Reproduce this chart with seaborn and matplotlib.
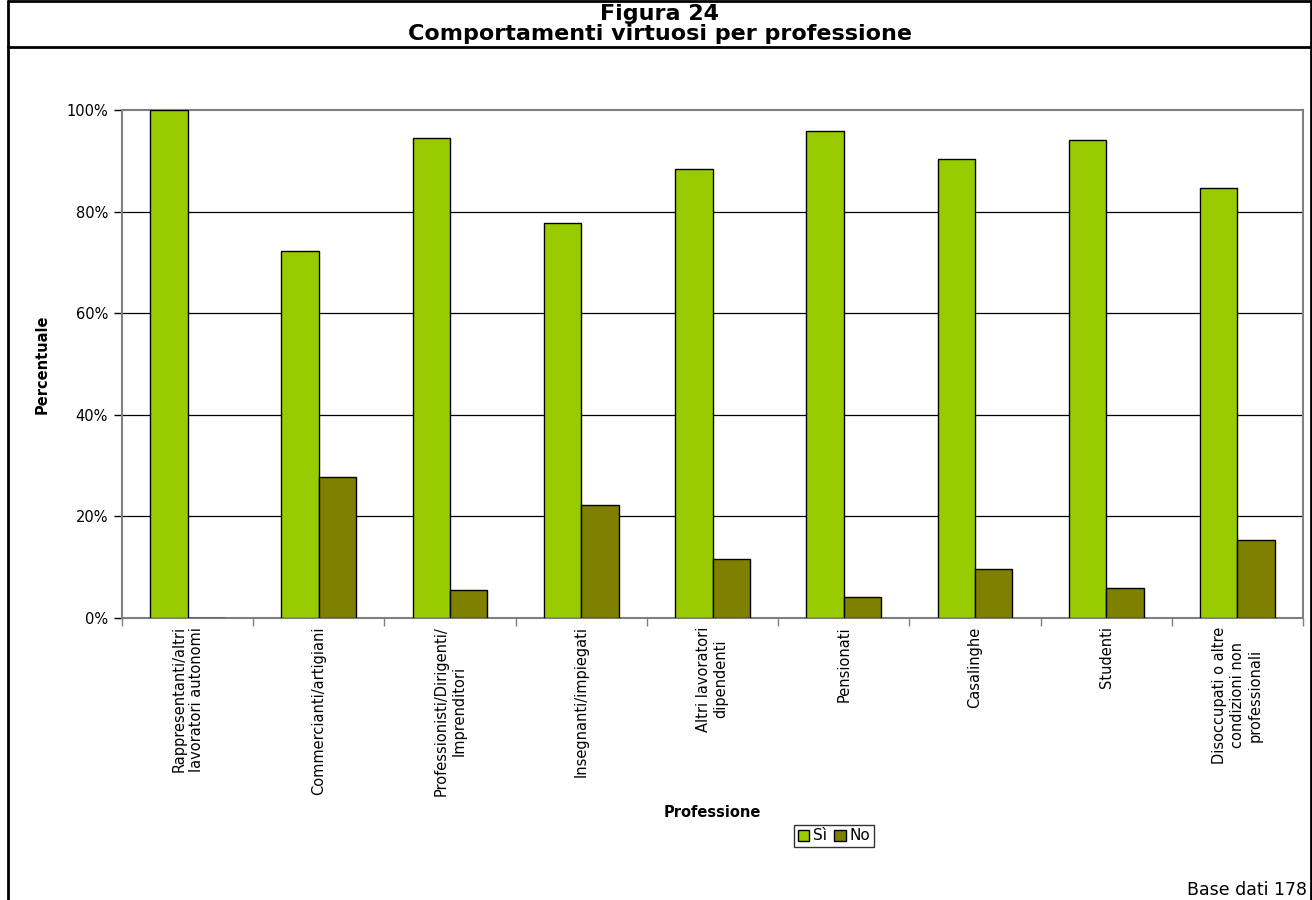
import matplotlib
matplotlib.use("Agg")
import matplotlib.pyplot as plt
import seaborn as sns
import pandas as pd
from matplotlib.lines import Line2D
from matplotlib.ticker import FixedLocator, FuncFormatter

categories = [
    "Rappresentanti/altri\nlavoratori autonomi",
    "Commercianti/artigiani",
    "Professionisti/Dirigenti/\nImprenditori",
    "Insegnanti/impiegati",
    "Altri lavoratori\ndipendenti",
    "Pensionati",
    "Casalinghe",
    "Studenti",
    "Disoccupati o altre\ncondizioni non\nprofessionali",
]
si_values = [100.0, 72.2, 94.4, 77.8, 88.3, 95.9, 90.4, 94.1, 84.6]
no_values = [0.0, 27.8, 5.6, 22.2, 11.7, 4.1, 9.6, 5.9, 15.4]
series_names = ["Sì", "No"]
yticks = [0, 20, 40, 60, 80, 100]

df = pd.DataFrame({
    "Professione": categories * 2,
    "Serie": [series_names[0]] * len(categories) + [series_names[1]] * len(categories),
    "Valore": si_values + no_values,
})

sns.set_style("white")
plt.rcParams['font.family'] = ['DejaVu Sans']
plt.rcParams['text.color'] = 'black'
plt.rcParams['axes.labelcolor'] = 'black'
plt.rcParams['xtick.color'] = 'black'
plt.rcParams['ytick.color'] = 'black'

W, H = 1312, 900
fig = plt.figure(figsize=(W / 100, H / 100), dpi=100)
ax = fig.add_axes([122 / W, 1 - 618 / H, (1303 - 122) / W, (618 - 110) / H])

sns.barplot(data=df, x="Professione", y="Valore", hue="Serie",
            palette={"Sì": "#99CC00", "No": "#808000"}, saturation=1,
            width=0.57, gap=0, edgecolor="black", linewidth=1.0,
            errorbar=None, ax=ax, legend=True, zorder=3)

ax.set_ylim(0, 100)
ax.set_xlim(-0.5, len(categories) - 0.5)
ax.yaxis.set_major_locator(FixedLocator(yticks))
ax.yaxis.set_major_formatter(FuncFormatter(lambda v, p: f"{v:.0f}%"))
ax.grid(False)
for v in yticks[1:-1]:
    ax.axhline(v, color="black", lw=0.9, zorder=1)

for s in ["top", "right", "bottom", "left"]:
    ax.spines[s].set_color("#808080")
    ax.spines[s].set_linewidth(1.5)
    ax.spines[s].set_visible(True)

ax.tick_params(axis="y", which="major", direction="out", length=6, width=1,
               color="black", labelsize=10.5, pad=4, left=True)
ax.set_xticks(range(len(categories)))
ax.set_xticklabels(categories, rotation=90, ha="center", va="top",
                   multialignment="center", fontsize=10.5)
ax.tick_params(axis="x", which="major", length=0, pad=6)
ax.set_xticks([i - 0.5 for i in range(len(categories) + 1)], minor=True)
ax.tick_params(axis="x", which="minor", direction="out", length=6, width=1,
               color="#808080", bottom=True)

ax.set_xlabel("Professione", fontsize=10.5, fontweight="bold")
ax.xaxis.set_label_coords(0.5, -(805 - 618) / (618 - 110))
ax.set_ylabel("Percentuale", fontsize=10.5, fontweight="bold")
ax.yaxis.set_label_coords(-(122 - 50) / (1303 - 122), 0.5)

handles, labels = ax.get_legend_handles_labels()
ax.legend_.remove()
leg = fig.legend(handles, labels, loc="center", bbox_to_anchor=(834 / W, 1 - 836 / H),
                 ncol=2, fontsize=11, frameon=True, fancybox=False,
                 edgecolor="black", handlelength=0.75, handleheight=0.75,
                 handletextpad=0.25, columnspacing=0.5, borderpad=0.25,
                 borderaxespad=0)
leg.get_frame().set_linewidth(1.0)

# Titles
fig.text(0.5 + 4 / W, 1 - 14 / H, "Figura 24", ha="center", va="center",
         fontsize=16, fontweight="bold")
fig.text(0.5 + 4 / W, 1 - 34.5 / H, "Comportamenti virtuosi per professione",
         ha="center", va="center", fontsize=16, fontweight="bold")

fig.text(1307 / W, 1 - 890 / H, "Base dati 178", ha="right", va="center",
         fontsize=12.5)

# Frame lines
lw = 2.0
fig.add_artist(Line2D([8 / W, 8 / W], [0, 1 - 1 / H], color="black", lw=lw))
fig.add_artist(Line2D([1311 / W, 1311 / W], [0, 1 - 1 / H], color="black", lw=lw))
fig.add_artist(Line2D([8 / W, 1311 / W], [1 - 1 / H, 1 - 1 / H], color="black", lw=lw))
fig.add_artist(Line2D([8 / W, 1311 / W], [1 - 47 / H, 1 - 47 / H], color="black", lw=lw))

fig.savefig("out.png", dpi=100, facecolor="white")
